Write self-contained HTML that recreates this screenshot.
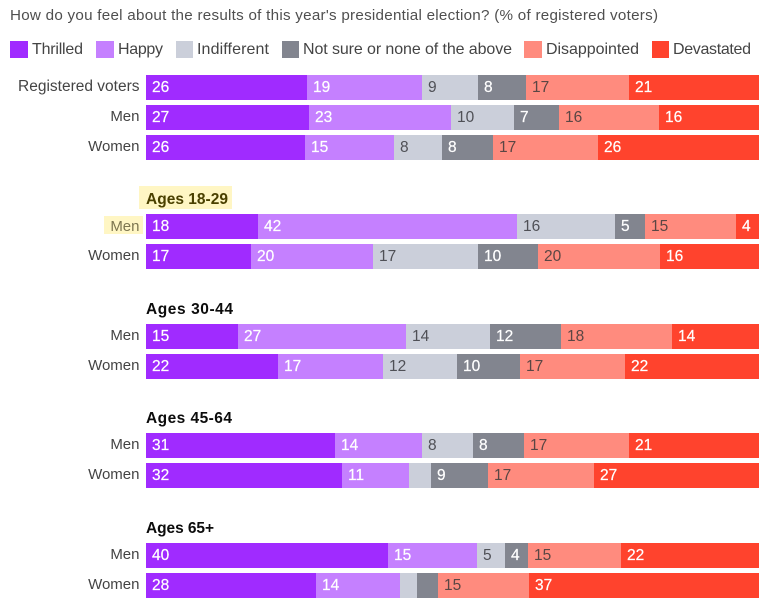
<!DOCTYPE html>
<html lang="en">
<head>
<meta charset="utf-8">
<title>How do you feel about the results of this year's presidential election?</title>
<style>
html,body{margin:0;padding:0;background:#fff;}
svg{display:block;font-family:"Liberation Sans",sans-serif;}
</style>
</head>
<body>
<svg id="chart" xmlns="http://www.w3.org/2000/svg" width="773" height="609" viewBox="0 0 773 609">
<rect x="0" y="0" width="773" height="609" fill="#ffffff"/>
<text x="10" y="20" font-size="15.2" fill="#4f4f4f" textLength="648" lengthAdjust="spacing">How do you feel about the results of this year's presidential election? (% of registered voters)</text>
<g>
<g><rect x="10" y="41" width="18" height="17" fill="#a02bff"/><text x="32" y="54" font-size="16" fill="#444444" textLength="51">Thrilled</text></g>
<g><rect x="96" y="41" width="18" height="17" fill="#c580ff"/><text x="118" y="54" font-size="16" fill="#444444" textLength="45">Happy</text></g>
<g><rect x="176" y="41" width="17" height="17" fill="#cbcfda"/><text x="197" y="54" font-size="16" fill="#444444" textLength="72">Indifferent</text></g>
<g><rect x="282" y="41" width="17" height="17" fill="#82858f"/><text x="303" y="54" font-size="16" fill="#444444" textLength="209">Not sure or none of the above</text></g>
<g><rect x="524" y="41" width="18" height="17" fill="#ff8b7e"/><text x="546" y="54" font-size="16" fill="#444444" textLength="93">Disappointed</text></g>
<g><rect x="652" y="41" width="17" height="17" fill="#ff432d"/><text x="673" y="54" font-size="16" fill="#444444" textLength="78">Devastated</text></g>
</g>
<g font-size="15.5" font-weight="700" fill="#0c0c0c">
<rect x="139" y="186" width="93" height="23" fill="#fff6c4"/>
<text x="146" y="204" fill="#4a4000" textLength="82">Ages 18-29</text>
<text x="146" y="314" textLength="87">Ages 30-44</text>
<text x="146" y="423" textLength="86">Ages 45-64</text>
<text x="146" y="533" textLength="68">Ages 65+</text>
</g>
<g id="plot"></g>
</svg>
<script>
const rowLabels = ["Registered voters","Men","Women","Men","Women","Men","Women","Men","Women","Men","Women"];
const rowGroups = [0,0,0,1,1,2,2,3,3,4,4];
const thrilled     = [26.3,26.6,25.9,18.3,17.1,15.0,21.5,30.8,32.0,39.5,27.7];
const happy        = [18.8,23.2,14.5,42.3,19.9,27.4,17.1,14.2,10.9,14.5,13.7];
const indifferent  = [9.1,10.3,7.9,15.9,17.1,13.7,12.1,8.3,3.6,4.6,2.8];
const notSure      = [7.8,7.3,8.3,4.9,9.8,11.6,10.3,8.3,9.3,3.7,3.4];
const disappointed = [16.8,16.3,17.2,14.9,19.9,18.1,17.1,17.2,17.3,15.2,14.9];
const devastated   = [21.2,16.3,26.2,3.7,16.2,14.2,21.9,21.2,26.9,22.49,37.49];
const seriesKeys = ["thrilled","happy","indifferent","not-sure","disappointed","devastated"];
const seriesValues = [thrilled,happy,indifferent,notSure,disappointed,devastated];
const seriesFills = ["#a02bff","#c580ff","#cbcfda","#82858f","#ff8b7e","#ff432d"];
const seriesInk = ["#ffffff","#ffffff","#4f5056","#ffffff","#5a4644","#ffffff"];

const NS = "http://www.w3.org/2000/svg";
const plot = document.getElementById("plot");
const X0 = 146, PLOT_W = 613, BAR_H = 25;
const xScale = (share) => X0 + share * PLOT_W;
const yScale = (rowIndex) => Math.floor(75 + 30 * rowIndex + 49.5 * rowGroups[rowIndex]);

function svgEl(tag, attrs, text) {
  const el = document.createElementNS(NS, tag);
  for (const k in attrs) el.setAttribute(k, attrs[k]);
  if (text !== undefined) el.textContent = text;
  return el;
}

// rows
rowLabels.forEach((label, r) => {
  const y = yScale(r);
  const highlighted = r === 3;
  if (highlighted) {
    const hl = svgEl("rect", {x: 104, y: y + 2, width: 39, height: 18, fill: "#fff6c4"});
    
    
    plot.appendChild(hl);
  }
  const lab = svgEl("text", {x: 139.5, y: y + (highlighted ? 17 : 16), "text-anchor": "end", "font-size": label.length > 5 ? 15.5 : 15, fill: highlighted ? "#7d7650" : "#444444"}, label);
  
  
  plot.appendChild(lab);

  const total = seriesValues.reduce((sum, s) => sum + s[r], 0);
  let cum = 0;
  seriesValues.forEach((series, s) => {
    const v = series[r];
    const x1 = Math.round(xScale(cum / total));
    const x2 = Math.round(xScale((cum + v) / total));
    cum += v;
    const bar = svgEl("rect", {x: x1, y: y, width: x2 - x1, height: BAR_H, fill: seriesFills[s]});
    
    
    plot.appendChild(bar);
    if (v >= 3.65) {
      const val = svgEl("text", {x: x1 + 6, y: y + 17, "font-size": 15.5, fill: seriesInk[s], stroke: seriesInk[s], "stroke-width": seriesInk[s] === "#ffffff" ? 0.2 : 0}, String(Math.round(v)));
      
      
      plot.appendChild(val);
    }
  });
});
</script>
</body>
</html>
